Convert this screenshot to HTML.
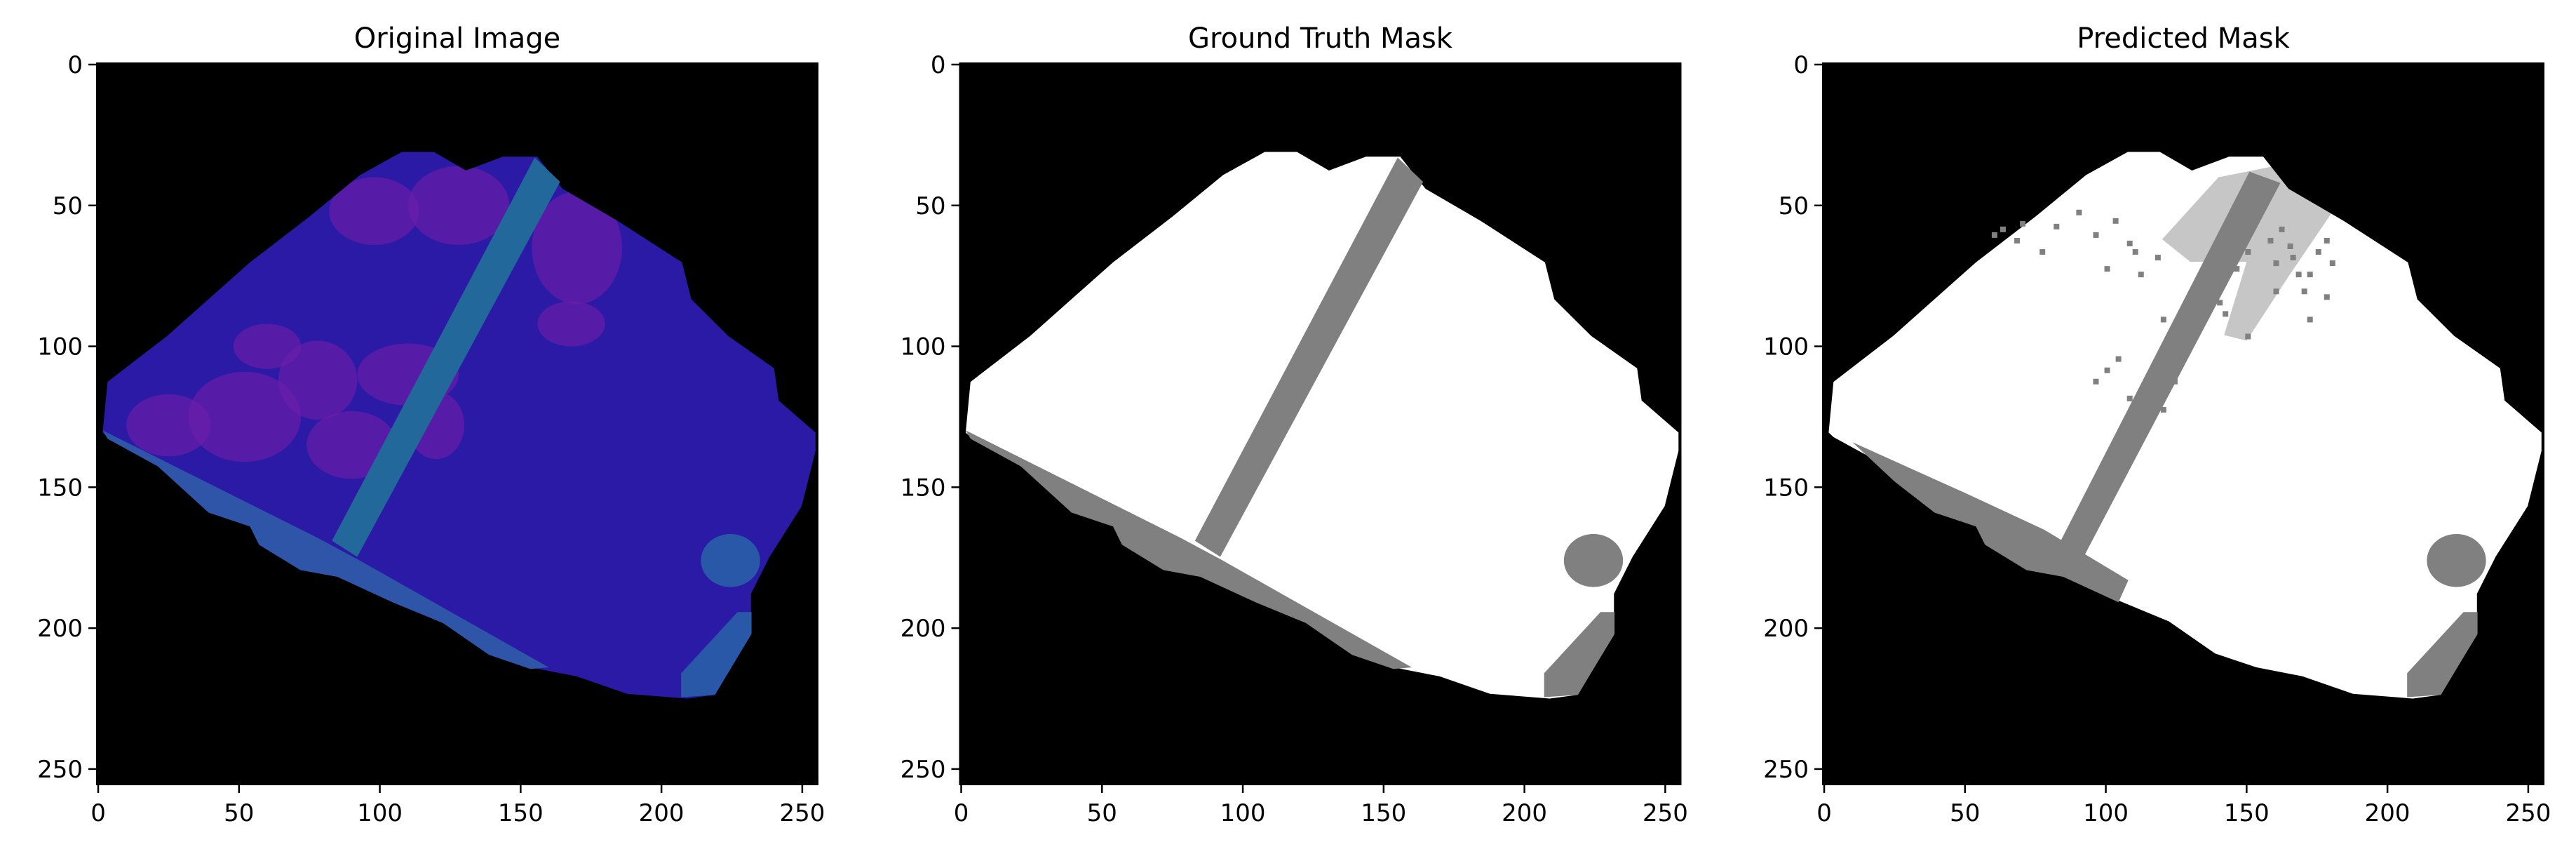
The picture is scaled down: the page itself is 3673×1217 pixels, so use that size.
<!DOCTYPE html>
<html><head><meta charset="utf-8"><style>
html,body{margin:0;padding:0;background:#fff;}
svg{display:block;font-family:"DejaVu Sans","Liberation Sans",sans-serif;}
</style></head><body>
<svg id="fig" width="3673" height="1217" viewBox="0 0 3673 1217" xmlns="http://www.w3.org/2000/svg"></svg>
<script>
const panelTitles = ["Original Image", "Ground Truth Mask", "Predicted Mask"];
const panelLefts = [138, 1368.5, 2599];
const tickValues = [0, 50, 100, 150, 200, 250];
const tickLabels = ["0", "50", "100", "150", "200", "250"];
const outline = [[1.6,130.6],[3.3,112.6],[24.5,96.3],[53.9,70.2],[75.1,53.9],[93,39.2],[107.8,31],[119.2,31],[130.6,37.6],[143.7,32.7],[155.9,32.7],[164.9,44.1],[184.5,55.5],[207.3,70.2],[210.6,83.3],[223.7,96.3],[240,107.8],[241.6,119.2],[254.7,130.6],[254.7,137.1],[249.8,156.7],[238.4,174.7],[231.8,187.8],[231.8,202.4],[218.8,223.7],[209,225],[187.8,223.3],[169.8,217.1],[153.5,213.9],[138.8,209],[122.4,197.6],[104.5,190.2],[84.9,181.2],[71.8,178.8],[57.1,169.8],[53.9,163.3],[39.2,158.4],[21.2,142],[3.3,132.2]];
const stripe = [[155,33],[164,41.6],[92,174.7],[83,169]];
const predStripe = [[151,38],[162,42],[92,175],[84,169]];
const bottomBand = [[1.6,129.8],[78,168],[92,175.5],[160,213.9],[153.5,214.5],[138.8,209.5],[122.4,198.2],[104.5,190.8],[84.9,181.8],[71.8,179.4],[57.1,170.4],[53.9,163.9],[39.2,159],[21.2,142.6],[3.3,132.8]];
const predBand = [[10,134],[50,152],[78,165],[93,174],[108,183],[104.5,190.8],[84.9,181.8],[71.8,179.4],[57.1,170.4],[53.9,163.9],[39.2,159],[25,148]];
const noiseZone = [[140,40],[160,36],[182,50],[165,75],[150,98],[142,96],[150,70],[130,70],[120,62]];
const lowerStripe = [[227,194.3],[232,194.3],[232,202],[219,223.7],[207,224.5],[207,216]];
const blob = [224.5,176,10.5,9.4];
const purplePatches = [[98,52,16,12],[128,50,18,14],[170,65,16,20],[168,92,12,8],[25,128,15,11],[52,125,20,16],[110,110,18,11],[78,112,14,14],[90,135,16,12],[120,128,10,12],[60,100,12,8]];
const noiseX = [60,63,68,70,77,82,90,96,100,103,108,110,112,118,120,122,125,131,134,138,142,146,148,150,158,160,162,165,168,170,172,175,178,180,96,100,104,108,112,120,124,128,132,140,150,160,166,172,178];
const noiseY = [60,58,62,56,66,57,52,60,72,55,63,66,74,68,90,102,108,96,80,78,88,72,60,66,62,70,58,64,74,80,90,66,62,70,112,108,104,118,126,122,112,100,92,84,96,80,68,74,82];
const size = 1028, top0 = 90;
const svg = document.getElementById('fig');
const NS = 'http://www.w3.org/2000/svg';
function mk(tag, attrs, parent){const e=document.createElementNS(NS,tag);for(const k in attrs)e.setAttribute(k,attrs[k]);parent.appendChild(e);return e;}
for (let p=0;p<3;p++){
  const L = panelLefts[p];
  const sx = v => L + (v+0.5)*size/256;
  const sy = v => top0 + (v+0.5)*size/256;
  const pts = arr => arr.map(q=>sx(q[0]).toFixed(1)+','+sy(q[1]).toFixed(1)).join(' ');
  const g = mk('g',{},svg);
  
  
  const bg = mk('rect',{x:L,y:top0,width:size,height:size,fill:'#000'},g);
  
  
  const cp = 'clip'+p;
  const cl = mk('clipPath',{id:cp},g);
  mk('polygon',{points:pts(outline)},cl);
  if (p===0){
    const body = mk('polygon',{points:pts(outline),fill:'#2a1aa6'},g);
    
    
    const band = mk('polygon',{points:pts(bottomBand),fill:'#2f55a8'},g);
    
    
    purplePatches.forEach(q=>{
      const e = mk('ellipse',{cx:sx(q[0]),cy:sy(q[1]),rx:q[2]*size/256,ry:q[3]*size/256,fill:'#6a1ea8',opacity:0.7,'clip-path':'url(#'+cp+')'},g);
      
      
    });
    const st = mk('polygon',{points:pts(stripe),fill:'#22689a'},g);
    
    
    const bl = mk('ellipse',{cx:sx(blob[0]),cy:sy(blob[1]),rx:blob[2]*size/256,ry:blob[3]*size/256,fill:'#2a58a8','clip-path':'url(#'+cp+')'},g);
    
    
    const ls = mk('polygon',{points:pts(lowerStripe),fill:'#2a58a8'},g);
    
    
  } else {
    const body = mk('polygon',{points:pts(outline),fill:'#fff'},g);
    
    
    if (p===2){
      const nz = mk('polygon',{points:pts(noiseZone),fill:'#808080',opacity:0.45,'clip-path':'url(#'+cp+')'},g);
      
      
    }
    const band = mk('polygon',{points:pts(p===1?bottomBand:predBand),fill:'#808080'},g);
    
    
    const st = mk('polygon',{points:pts(p===1?stripe:predStripe),fill:'#808080'},g);
    
    
    const bl = mk('ellipse',{cx:sx(blob[0]),cy:sy(blob[1]),rx:blob[2]*size/256,ry:blob[3]*size/256,fill:'#808080','clip-path':'url(#'+cp+')'},g);
    
    
    const ls = mk('polygon',{points:pts(lowerStripe),fill:'#808080'},g);
    
    
    if (p===2){
      for (let i=0;i<noiseX.length;i++){
        const d = mk('rect',{x:sx(noiseX[i])-2,y:sy(noiseY[i])-2,width:8,height:8,fill:'#808080'},g);
        
        
      }
    }
  }
  const fr = mk('rect',{x:L,y:top0,width:size,height:size,fill:'none',stroke:'#000','stroke-width':2},g);
  
  
  const t = mk('text',{x:L+size/2,y:68,'text-anchor':'middle','font-size':40,fill:'#000'},g);
  t.textContent = panelTitles[p];
  
  
  tickValues.forEach((v,i)=>{
    const x = sx(v), y = sy(v);
    const tx = mk('line',{x1:x,y1:top0+size,x2:x,y2:top0+size+12,stroke:'#000','stroke-width':2.5},g);
    
    
    const lx = mk('text',{x:x,y:top0+size+52,'text-anchor':'middle','font-size':34,fill:'#000'},g);
    lx.textContent = tickLabels[i];
    
    
    const ty = mk('line',{x1:L-12,y1:y,x2:L,y2:y,stroke:'#000','stroke-width':2.5},g);
    
    
    const ly = mk('text',{x:L-20,y:y+12,'text-anchor':'end','font-size':34,fill:'#000'},g);
    ly.textContent = tickLabels[i];
    
    
  });
}
</script>
</body></html>
